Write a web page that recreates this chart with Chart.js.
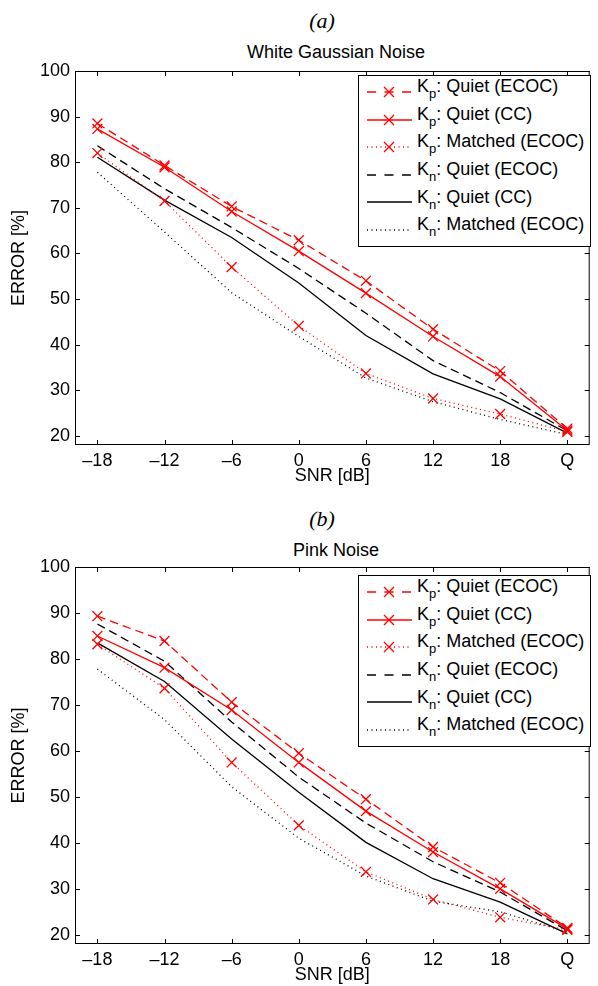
<!DOCTYPE html>
<html>
<head>
<meta charset="utf-8">
<script src="https://cdn.jsdelivr.net/npm/chart.js@4.4.0/dist/chart.umd.min.js"></script>
<style>
  body { margin: 0; background: #fff; }
  #page { position: relative; width: 598px; height: 986px; overflow: hidden; font-family: "Liberation Sans", Arial, sans-serif; color: #000; }
  canvas { position: absolute; left: 0; }
  .panel { position: absolute; left: 322px; transform: translateX(-50%); font-family: "Liberation Serif", serif; font-style: italic; font-size: 22px; line-height: 22px; white-space: nowrap; }
  .title { position: absolute; left: 336px; transform: translateX(-50%); font-size: 18px; line-height: 18px; white-space: nowrap; }
  .legend { position: absolute; left: 358px; width: 231px; height: 170px; border: 1px solid #000; background: #fff; }
  .row { position: absolute; left: 58px; font-size: 18px; line-height: 18px; white-space: nowrap; }
  .row sub { font-size: 13px; vertical-align: baseline; position: relative; top: 6px; }
  .sample { position: absolute; left: 8px; }
</style>
</head>
<body>
<div id="page">
  <div class="panel" style="top:10px">(a)</div>
  <div class="title" style="top:43px">White Gaussian Noise</div>
  <canvas id="chartA" width="598" height="496" style="top:0"></canvas>
  <div class="legend" id="legendA" style="top:75px"></div>

  <div class="panel" style="top:508px">(b)</div>
  <div class="title" style="top:541px">Pink Noise</div>
  <canvas id="chartB" width="598" height="490" style="top:496px"></canvas>
  <div class="legend" id="legendB" style="top:575px"></div>
</div>
<script>
// x positions (dB), Q = quiet placed after 18
const SNR = [-18, -12, -6, 0, 6, 12, 18, 24];
const SNR_LABELS = ['–18', '–12', '–6', '0', '6', '12', '18', 'Q'];
const Y_TICKS = [20, 30, 40, 50, 60, 70, 80, 90, 100];

const LEGEND_SUB = ['p', 'p', 'p', 'n', 'n', 'n'];
const LEGEND_TEXT = [': Quiet (ECOC)', ': Quiet (CC)', ': Matched (ECOC)', ': Quiet (ECOC)', ': Quiet (CC)', ': Matched (ECOC)'];

// White Gaussian noise
const WGN_KP_QUIET_ECOC = [88.5, 79.3, 70.3, 62.9, 54.0, 43.4, 34.2, 21.6];
const WGN_KP_QUIET_CC   = [87.3, 78.9, 69.2, 60.5, 51.3, 41.8, 33.0, 21.2];
const WGN_KP_MATCHED    = [82.0, 71.5, 57.0, 44.1, 33.7, 28.2, 24.8, 20.9];
const WGN_KN_QUIET_ECOC = [83.6, 74.2, 65.7, 56.7, 46.9, 36.5, 29.5, 21.1];
const WGN_KN_QUIET_CC   = [81.1, 71.7, 63.5, 53.5, 42.0, 33.6, 28.1, 20.6];
const WGN_KN_MATCHED    = [77.8, 64.7, 51.4, 41.8, 32.7, 27.5, 23.6, 20.3];

// Pink noise
const PINK_KP_QUIET_ECOC = [89.3, 83.9, 70.6, 59.5, 49.5, 39.1, 31.3, 21.5];
const PINK_KP_QUIET_CC   = [85.0, 78.1, 68.9, 57.5, 46.9, 38.0, 30.0, 21.3];
const PINK_KP_MATCHED    = [83.2, 73.6, 57.5, 43.8, 33.7, 27.7, 23.8, 21.1];
const PINK_KN_QUIET_ECOC = [87.6, 79.5, 66.3, 54.3, 44.3, 35.9, 29.3, 20.9];
const PINK_KN_QUIET_CC   = [83.5, 75.1, 62.6, 51.0, 40.1, 32.2, 27.1, 20.2];
const PINK_KN_MATCHED    = [77.8, 66.8, 52.2, 41.0, 32.8, 27.3, 25.0, 20.6];

const RED = '#ff0000', BLACK = '#000000';
const DASH = [8.5, 5], DOT = [1, 3.5];
const STYLES = [
  { color: RED,   dash: DASH, key: '9 8.5', marker: true },
  { color: RED,   dash: [],   key: 'none',  marker: true },
  { color: RED,   dash: DOT,  key: '1 3.5', marker: true },
  { color: BLACK, dash: DASH, key: '9 8.5', marker: false },
  { color: BLACK, dash: [],   key: 'none',  marker: false },
  { color: BLACK, dash: DOT,  key: '1 3.5', marker: false }
];
const FONT = "'Liberation Sans', Arial, sans-serif";

// matlab style frame with inward ticks on all four sides
const boxPlugin = {
  id: 'matlabBox',
  afterDraw(chart) {
    const { ctx, chartArea: a, scales: { x, y } } = chart;
    ctx.save();
    ctx.strokeStyle = '#000';
    ctx.lineWidth = 1;
    ctx.setLineDash([]);
    ctx.beginPath();
    x.ticks.forEach(t => {
      const px = Math.round(x.getPixelForValue(t.value)) + 0.5;
      ctx.moveTo(px, a.bottom); ctx.lineTo(px, a.bottom - 5);
      ctx.moveTo(px, a.top); ctx.lineTo(px, a.top + 5);
    });
    y.ticks.forEach(t => {
      const py = Math.round(y.getPixelForValue(t.value)) + 0.5;
      ctx.moveTo(a.left, py); ctx.lineTo(a.left + 5, py);
      ctx.moveTo(a.right, py); ctx.lineTo(a.right - 5, py);
    });
    ctx.stroke();
    ctx.strokeRect(a.left + 0.5, a.top + 0.5, a.right - a.left - 1, a.bottom - a.top - 1);
    ctx.restore();
  }
};

function makeChart(id, series, cfg) {
  return new Chart(document.getElementById(id), {
    type: 'line',
    data: {
      datasets: series.map((s, i) => ({
        label: 'K' + LEGEND_SUB[i] + LEGEND_TEXT[i],
        data: SNR.map((x, j) => ({ x, y: s[j] })),
        borderColor: STYLES[i].color,
        borderWidth: 1.3,
        borderDash: STYLES[i].dash,
        tension: 0,
        fill: false,
        pointStyle: 'crossRot',
        pointRadius: STYLES[i].marker ? 7 : 0,
        pointHoverRadius: STYLES[i].marker ? 7 : 0,
        pointBorderColor: STYLES[i].color,
        pointBorderWidth: 1.3,
        pointBackgroundColor: 'transparent'
      }))
    },
    options: {
      responsive: false,
      animation: false,
      devicePixelRatio: 1,
      layout: { padding: { top: 71, right: 1, left: 0, bottom: 0 } },
      plugins: { legend: { display: false }, tooltip: { enabled: false }, title: { display: false } },
      scales: {
        x: {
          type: 'linear', min: -20, max: 26, bounds: 'data',
          afterBuildTicks: s => { s.ticks = SNR.map(v => ({ value: v })); },
          afterFit: s => { s.height = cfg.axisH; },
          ticks: { autoSkip: false, maxRotation: 0, padding: 5, color: '#000', font: { family: FONT, size: 18 },
                   callback: (v, i) => SNR_LABELS[i] },
          grid: { display: false, drawTicks: false },
          border: { display: false },
          title: { display: true, text: 'SNR [dB]', color: '#000', font: { family: FONT, size: 18 },
                   padding: { top: 0, bottom: cfg.titlePad } }
        },
        y: {
          type: 'linear', min: 18, max: 100, bounds: 'data',
          afterBuildTicks: s => { s.ticks = Y_TICKS.map(v => ({ value: v })); },
          afterFit: s => { s.width = 75; },
          ticks: { padding: 5, color: '#000', font: { family: FONT, size: 18 } },
          grid: { display: false, drawTicks: false },
          border: { display: false },
          title: { display: true, text: 'ERROR [%]', color: '#000', font: { family: FONT, size: 18 },
                   padding: { top: 8, bottom: 0 } }
        }
      }
    },
    plugins: [boxPlugin]
  });
}

function buildLegend(id) {
  const box = document.getElementById(id);
  STYLES.forEach((st, i) => {
    const top = 27.6 * i;
    const mark = st.marker ? `<path d="M17 2 L27 12 M27 2 L17 12" stroke="${st.color}" stroke-width="1.3" fill="none"/>` : '';
    box.insertAdjacentHTML('beforeend',
      `<svg class="sample" width="45" height="14" style="top:${(9 + top).toFixed(1)}px">` +
      `<line x1="0" y1="7" x2="45" y2="7" stroke="${st.color}" stroke-width="1.3" stroke-dasharray="${st.key}"/>${mark}</svg>` +
      `<div class="row" style="top:${(1.2 + top).toFixed(1)}px">K<sub>${LEGEND_SUB[i]}</sub>${LEGEND_TEXT[i]}</div>`);
  });
}

makeChart('chartA', [WGN_KP_QUIET_ECOC, WGN_KP_QUIET_CC, WGN_KP_MATCHED, WGN_KN_QUIET_ECOC, WGN_KN_QUIET_CC, WGN_KN_MATCHED],
  { axisH: 51, titlePad: 9 });
makeChart('chartB', [PINK_KP_QUIET_ECOC, PINK_KP_QUIET_CC, PINK_KP_MATCHED, PINK_KN_QUIET_ECOC, PINK_KN_QUIET_CC, PINK_KN_MATCHED],
  { axisH: 42, titlePad: 0 });
buildLegend('legendA');
buildLegend('legendB');
</script>
</body>
</html>
